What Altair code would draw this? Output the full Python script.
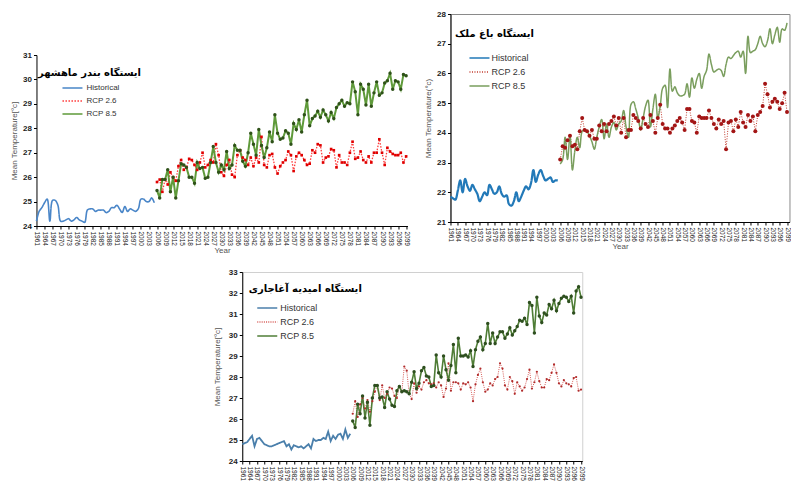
import altair as alt
import pandas as pd

SERIES = ["Historical", "RCP 2.6", "RCP 8.5"]
HIST_YEARS = list(range(1961, 2006))
PROJ_YEARS = list(range(2006, 2100))
X_TICKS = list(range(1961, 2100, 3))

# ---------------- Panel 1 : Bandar Mahshahr ----------------
p1_title = "ایستگاه بندر ماهشهر"
p1_hist = [24.2, 24.6, 24.75, 24.95, 25.1, 24.2, 25.05, 25.05, 24.85, 24.2,
           24.2, 24.25, 24.3, 24.2, 24.25, 24.35, 24.25, 24.2, 24.15, 24.65,
           24.7, 24.7, 24.6, 24.65, 24.65, 24.65, 24.55, 24.6, 24.75, 24.75,
           24.85, 24.7, 24.55, 24.8, 24.6, 24.7, 24.65, 24.6, 24.7, 25.1,
           25.1, 25.0, 25.0, 25.15, 24.95]
p1_rcp26 = [25.8, 25.9, 25.4, 25.9, 25.7, 26.2, 26.0, 25.85, 26.45, 26.7,
            26.3, 26.4, 26.75, 26.7, 26.5, 26.3, 26.6, 27.0, 26.4, 26.5,
            26.7, 26.6, 27.35, 26.9, 26.2, 26.05, 26.5, 26.7, 26.1, 26.0,
            26.9, 27.1, 26.8, 26.7, 26.5, 26.8, 26.45, 26.8, 26.6, 27.65,
            26.5, 26.4, 26.9, 26.95, 26.4, 26.15, 26.45, 26.6, 26.7, 27.05,
            26.9, 26.25, 26.85, 27.0, 26.9, 26.7, 26.5, 26.55, 27.1, 27.0,
            27.35, 27.3, 26.6, 26.8, 26.85, 27.15, 27.1, 26.4, 26.9, 26.6,
            26.6, 26.5, 27.0, 27.45, 26.75, 26.8, 27.05, 26.7, 26.6, 26.85,
            26.6, 27.0, 27.0, 27.55, 27.0, 26.5, 27.2, 27.05, 26.95, 26.9,
            26.9, 27.0, 26.6, 26.85]
p1_rcp85 = [25.45, 25.15, 25.9, 25.9, 26.3, 25.4, 26.0, 25.15, 25.85, 26.55,
            26.5, 26.4, 26.0, 26.0, 25.75, 26.6, 26.35, 26.4, 25.95, 26.0,
            26.6, 27.25, 26.6, 26.2, 26.5, 26.3, 27.05, 26.35, 26.5, 27.3,
            27.1, 27.1, 26.65, 26.45, 27.0, 27.8, 27.35, 26.9, 27.95, 27.3,
            26.8, 27.2, 27.85, 27.45, 28.55, 27.8, 27.55, 27.6, 27.9, 27.8,
            27.35, 28.2, 27.95, 28.35, 27.85, 28.55, 29.15, 28.1, 28.4, 28.5,
            28.7, 28.45, 28.75, 28.55, 28.3, 28.65, 28.4, 28.85, 29.0, 29.15,
            28.9, 29.05, 29.0, 29.9, 29.5, 28.55, 29.8, 29.6, 28.95, 29.8,
            28.9, 29.45, 29.9, 29.35, 29.45, 29.85, 29.95, 30.25, 29.6, 29.95,
            29.9, 29.6, 30.2, 30.15]

# ---------------- Panel 2 : Bagh Malek ----------------
p2_title = "ایستگاه باغ ملک"
p2_hist = [21.85, 21.8, 21.75, 22.05, 22.4, 22.0, 22.45, 22.2, 22.05, 22.25,
           22.1, 21.95, 21.7, 21.85, 22.0, 21.9, 22.25, 22.1, 21.95, 22.0,
           22.2, 21.95, 21.85, 21.9, 21.6, 21.55, 21.7, 22.0, 21.7, 21.85,
           22.05, 22.2, 22.1, 22.3, 22.75, 22.35, 22.6, 22.75, 22.55, 22.4,
           22.45, 22.5, 22.35, 22.4, 22.4]
p2_rcp26 = [23.1, 23.55, 23.5, 23.75, 23.9, 23.55, 23.6, 23.45, 24.05, 24.5,
            24.1, 24.05, 23.9, 24.1, 23.8, 23.8, 24.25, 24.05, 24.3, 24.05,
            24.3, 24.4, 24.55, 24.25, 24.5, 24.0, 24.5, 23.85, 24.1, 24.1,
            24.6, 24.5, 24.4, 24.15, 24.5, 24.3, 24.2, 24.6, 24.4, 24.0,
            24.5, 24.95, 24.3, 24.15, 24.15, 24.0, 24.15, 24.25, 24.4, 24.5,
            24.35, 24.1, 24.8, 24.8, 24.4, 24.35, 24.0, 24.55, 24.5, 24.5,
            24.5, 24.75, 24.5, 24.3, 24.15, 24.45, 24.3, 24.4, 23.45, 24.35,
            24.4, 24.05, 24.45, 24.2, 24.7, 24.35, 24.2, 24.6, 24.4, 24.55,
            24.05, 24.6, 24.7, 24.9, 25.65, 25.3, 24.85, 25.05, 25.15, 25.05,
            24.8, 25.0, 25.35, 24.7]
p2_rcp85 = [22.95, 23.1, 23.85, 23.1, 23.9, 22.75, 23.4, 23.85, 23.5, 24.05,
            24.1, 24.05, 23.9, 23.7, 23.45, 23.85, 24.2, 24.45, 23.8, 24.3,
            23.85, 24.2, 24.35, 24.1, 24.3, 24.4, 24.75, 24.2, 23.85, 24.95,
            25.05, 24.8, 24.5, 24.1, 24.5, 24.9, 25.1, 24.2, 24.8, 25.3,
            24.5, 24.9, 25.5, 25.6, 24.85, 26.15, 25.4, 25.55, 25.35, 25.25,
            25.25, 25.3, 25.65, 25.2, 25.85, 25.5, 25.8, 26.0, 25.5, 25.9,
            26.1, 26.65, 26.3, 26.05, 26.1, 26.15, 26.1, 25.9, 26.3, 26.55,
            26.5, 26.6, 26.7, 26.75, 26.55, 26.75, 26.0, 27.25, 26.7, 26.75,
            26.8, 27.0, 27.25, 27.0, 26.9, 27.1, 27.5, 27.0, 27.3, 27.55,
            27.05, 27.5, 27.45, 27.7]

# ---------------- Panel 3 : Omidieh Aghajari ----------------
p3_title = "ایستگاه امیدیه آغاجاری"
p3_hist = [24.8, 24.85, 24.9, 25.05, 25.2, 24.7, 25.05, 25.1, 24.95, 24.8,
           24.75, 24.7, 24.7, 24.75, 24.8, 24.85, 24.9, 24.95, 24.7, 24.8,
           24.55, 24.75, 24.7, 24.65, 24.7, 24.6, 24.7, 24.8, 24.6, 25.05,
           24.95, 25.0, 25.0, 25.1, 25.05, 25.4, 24.95, 25.2, 25.05, 25.25,
           25.3, 25.05, 25.5, 25.1, 25.3]
p3_rcp26 = [26.25, 26.85, 26.1, 26.7, 27.0, 26.5, 26.9, 26.35, 26.85, 27.3,
            27.6, 26.9, 27.6, 27.0, 27.2, 27.5, 27.45, 27.1, 27.0, 27.55,
            27.3, 28.5, 28.3, 27.2, 26.95, 27.7, 27.25, 27.55, 27.4, 27.75,
            27.85, 27.7, 27.65, 27.7, 27.5, 27.75, 27.6, 27.05, 27.45, 28.65,
            27.35, 27.75, 27.75, 27.7, 27.4, 27.7, 27.65, 27.75, 27.5, 26.85,
            27.65, 28.1, 28.4, 27.75, 27.3, 27.4, 27.7, 27.6, 27.9, 28.0,
            28.65, 28.4, 27.6, 27.4, 28.0, 27.8, 27.2, 27.75, 27.55, 27.35,
            27.5, 27.9, 28.35, 27.45, 27.75, 28.25, 27.8, 27.5, 27.5, 27.9,
            27.85, 28.2, 28.6, 28.2, 27.7, 27.55, 27.85, 27.7, 27.65, 27.55,
            27.95, 28.0, 27.35, 27.4]
p3_rcp85 = [25.9, 25.6, 26.7, 26.25, 27.1, 26.05, 26.8, 25.7, 27.0, 27.6,
            27.6, 27.0, 27.05, 26.55, 27.3, 26.95, 26.65, 26.6, 27.35, 27.55,
            27.3, 27.35, 27.3, 27.2, 27.75, 28.25, 27.45, 27.7, 28.3, 28.45,
            28.05, 28.0, 27.55, 27.6, 29.05, 28.2, 28.0, 29.0, 28.35, 27.85,
            28.55, 29.55, 28.2, 29.85, 29.0, 29.0, 29.05, 28.95, 29.25, 28.5,
            29.3, 29.7, 29.9, 29.3, 29.6, 30.55, 29.6, 30.1, 29.6, 29.9,
            30.15, 30.15, 29.85, 30.05, 30.35, 30.0, 30.2, 30.4, 30.7, 30.65,
            30.8, 30.5, 31.55, 31.4, 30.1, 31.8, 30.9, 30.6, 31.05, 30.95,
            31.45, 31.25, 31.65, 31.15, 31.5, 31.75, 31.85, 31.8, 31.6, 31.85,
            31.05, 32.1, 32.3, 31.8]

FONT = "Liberation Sans"
FA_FONT = "DejaVu Sans"


def make_df(hist, r26, r85):
    rows = []
    for yr, v in zip(HIST_YEARS, hist):
        rows.append({"year": yr, "temp": v, "series": "Historical"})
    for yr, v in zip(PROJ_YEARS, r26):
        rows.append({"year": yr, "temp": v, "series": "RCP 2.6"})
    for yr, v in zip(PROJ_YEARS, r85):
        rows.append({"year": yr, "temp": v, "series": "RCP 8.5"})
    return pd.DataFrame(rows)


def panel(hist, r26, r85, title, ytitle, ydomain, width, height, xmax,
          styles, legend_xy, legend_font, row_pad, label_off, title_xy,
          show_xtitle, frame, ytitle_pad):
    df = make_df(hist, r26, r85)
    xaxis = alt.Axis(values=X_TICKS, format="d", labelAngle=90, labelAlign="left",
                     labelBaseline="middle", labelFontSize=6.5, labelColor="#222",
                     labelFont=FONT, labelPadding=2, tickSize=3, tickColor="#000",
                     domainColor="#000", grid=False, labelOverlap=False,
                     labelFlush=False, titleFont=FONT, titleFontSize=8,
                     titleFontWeight="normal", titleColor="#555", titlePadding=1,
                     title="Year" if show_xtitle else "")
    yaxis = alt.Axis(values=list(range(ydomain[0], ydomain[1] + 1)), format="d",
                     labelFont=FONT, labelFontSize=8, labelFontWeight="bold",
                     labelColor="#222", tickSize=3, tickColor="#000",
                     domainColor="#000", grid=False, labelPadding=2,
                     title=ytitle, titleFont=FONT, titleFontSize=8,
                     titleFontWeight="normal", titleColor="#555",
                     titlePadding=ytitle_pad)
    base = alt.Chart(df).encode(
        x=alt.X("year:Q", scale=alt.Scale(domain=[1961, xmax], nice=False, zero=False), axis=xaxis),
        y=alt.Y("temp:Q", scale=alt.Scale(domain=list(ydomain), nice=False, zero=False), axis=yaxis),
    )
    color_scale = alt.Scale(domain=SERIES, range=[styles[s]["color"] for s in SERIES])
    dash_scale = alt.Scale(domain=SERIES, range=[styles[s]["dash"] for s in SERIES])
    legend = alt.Legend(title=None, orient="none", legendX=legend_xy[0], legendY=legend_xy[1],
                        symbolType="M-2,0H2", symbolSize=100, symbolStrokeWidth=1.6,
                        labelFont=FONT, labelFontSize=legend_font, labelColor="#333",
                        labelOffset=label_off, rowPadding=row_pad, padding=0)
    layers = []
    for s in SERIES:
        st = styles[s]
        layers.append(
            base.transform_filter(alt.datum.series == s)
            .mark_line(interpolate=st["interp"], strokeWidth=st["width"])
            .encode(color=alt.Color("series:N", scale=color_scale, legend=legend),
                    strokeDash=alt.StrokeDash("series:N", scale=dash_scale, legend=legend))
        )
    for s in SERIES:
        st = styles[s]
        if st.get("marker"):
            layers.append(
                base.transform_filter(alt.datum.series == s)
                .mark_point(filled=True, shape=st["marker"], size=st["msize"],
                            color=st["mcolor"], opacity=1, strokeWidth=0)
            )
    layers.append(
        alt.Chart(pd.DataFrame({"t": [title]}))
        .mark_text(font=FA_FONT, fontSize=10, fontWeight="bold", color="#000",
                   align="center", baseline="middle")
        .encode(text="t:N", x=alt.value(title_xy[0]), y=alt.value(title_xy[1]))
    )
    return alt.layer(*layers).properties(
        width=width, height=height,
        view=alt.ViewBackground(stroke=frame, strokeWidth=1),
    )


p1_styles = {
    "Historical": {"color": "#4a86c8", "dash": [1, 0], "width": 1.6, "interp": "catmull-rom"},
    "RCP 2.6": {"color": "#ff3b3b", "dash": [1.5, 1.5], "width": 1.3, "interp": "linear",
                "marker": "square", "msize": 7, "mcolor": "#e00000"},
    "RCP 8.5": {"color": "#5f9a3a", "dash": [1, 0], "width": 2, "interp": "linear",
                "marker": "circle", "msize": 12, "mcolor": "#2f5219"},
}
p2_styles = {
    "Historical": {"color": "#2279b8", "dash": [1, 0], "width": 2.2, "interp": "catmull-rom"},
    "RCP 2.6": {"color": "#c0392b", "dash": [1, 1.5], "width": 1, "interp": "linear",
                "marker": "circle", "msize": 16, "mcolor": "#a31515"},
    "RCP 8.5": {"color": "#7a9e5e", "dash": [1, 0], "width": 1.5, "interp": "catmull-rom"},
}
p3_styles = {
    "Historical": {"color": "#4a7fab", "dash": [1, 0], "width": 1.8, "interp": "linear"},
    "RCP 2.6": {"color": "#d65a56", "dash": [1, 1.2], "width": 1, "interp": "linear",
                "marker": "circle", "msize": 5, "mcolor": "#b02b2b"},
    "RCP 8.5": {"color": "#4f7d36", "dash": [1, 0], "width": 1.6, "interp": "linear",
                "marker": "circle", "msize": 12, "mcolor": "#2e4f1f"},
}

c1 = panel(p1_hist, p1_rcp26, p1_rcp85, p1_title, "Mean Temperature[°c]", (24, 31),
           371, 171, 2099.5, p1_styles, (30, 27), 8, 3, 8, (53, 18), True,
           "transparent", 4)
c2 = panel(p2_hist, p2_rcp26, p2_rcp85, p2_title, "Mean Temperature(°c)", (21, 28),
           339, 208, 2100, p2_styles, (23, 38), 9, 3, 6, (44, 20), True,
           "#8a8a8a", 4)
c3 = panel(p3_hist, p3_rcp26, p3_rcp85, p3_title, "Mean Temperature[°c]", (24, 33),
           340, 189, 2099.5, p3_styles, (19, 30), 9, 3, 7, (63, 17), False,
           "#d0d0d0", 7)

# invisible spacer that pushes the first panel down
spacer = alt.Chart(pd.DataFrame({"a": [0]})).mark_point(opacity=0).properties(
    width=371, height=1, view=alt.ViewBackground(stroke="transparent"))

IND = dict(color="independent", strokeDash="independent")

left_col = alt.vconcat(spacer, c1, spacing=32).resolve_scale(**IND).resolve_legend(**IND)
top_row = alt.hconcat(left_col, c2, spacing=12).resolve_scale(**IND).resolve_legend(**IND)

chart = alt.vconcat(top_row, c3, spacing=12, center=True).resolve_scale(**IND).resolve_legend(
    **IND).configure(
    background="white", padding={"left": 10, "top": 9, "right": 0, "bottom": 0})

chart.save("out.html", embed_options={"renderer": "svg", "actions": False})
